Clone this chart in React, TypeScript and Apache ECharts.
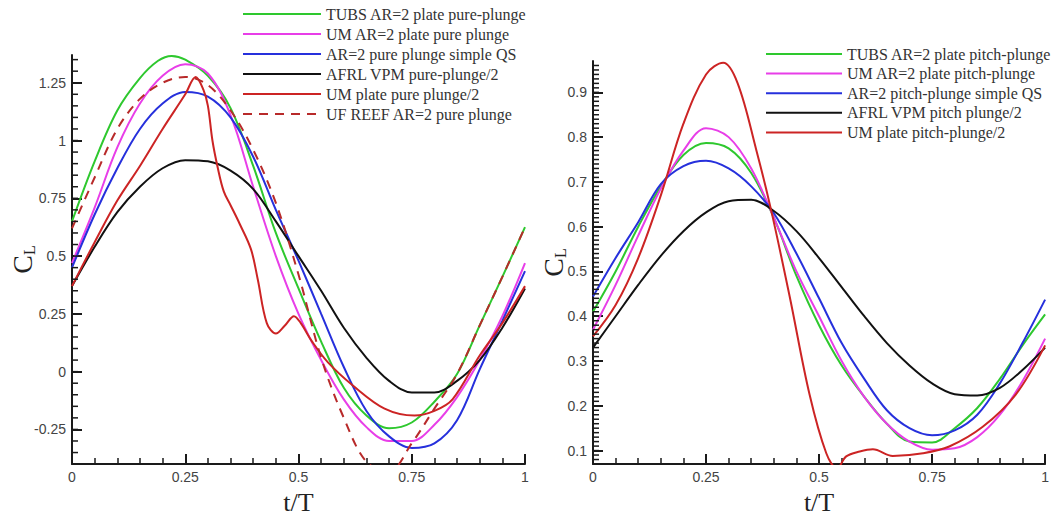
import React, { useEffect, useRef } from "react";
import * as echarts from "echarts";

// ---------- data (t/T, C_L) ----------
const tGrid = [0, 0.05, 0.1, 0.15, 0.2, 0.25, 0.3, 0.35, 0.4, 0.45, 0.5, 0.55, 0.6, 0.65, 0.7, 0.75, 0.8, 0.85, 0.9, 0.95, 1];

// left panel: pure plunge
const leftNames = [
  "TUBS AR=2 plate pure-plunge",
  "UM AR=2 plate pure plunge",
  "AR=2 pure plunge simple QS",
  "AFRL VPM pure-plunge/2",
  "UM plate pure plunge/2",
  "UF REEF AR=2 pure plunge",
];
const tubsPureT = [0, 0.05, 0.1, 0.15, 0.19, 0.22, 0.25, 0.3, 0.35, 0.4, 0.45, 0.5, 0.55, 0.6, 0.65, 0.7, 0.75, 0.8, 0.85, 0.9, 0.95, 1];
const tubsPure = [0.65, 0.91, 1.13, 1.27, 1.345, 1.366, 1.35, 1.28, 1.14, 0.89, 0.6, 0.36, 0.13, -0.07, -0.19, -0.245, -0.22, -0.13, -0.01, 0.2, 0.41, 0.625];
const umPure = [0.47, 0.71, 0.97, 1.16, 1.28, 1.33, 1.29, 1.11, 0.8, 0.5, 0.25, 0.05, -0.12, -0.24, -0.3, -0.3, -0.23, -0.11, 0.05, 0.24, 0.47];
const qsPure = [0.45, 0.68, 0.88, 1.05, 1.16, 1.21, 1.19, 1.1, 0.93, 0.7, 0.48, 0.25, 0.02, -0.17, -0.28, -0.33, -0.31, -0.21, 0.01, 0.22, 0.435];
const vpmPure = [0.37, 0.54, 0.69, 0.8, 0.88, 0.915, 0.91, 0.87, 0.79, 0.65, 0.5, 0.35, 0.19, 0.06, -0.04, -0.09, -0.09, -0.04, 0.05, 0.19, 0.36];
const reefPure = [0.62, 0.84, 1.05, 1.18, 1.25, 1.275, 1.24, 1.13, 0.96, 0.73, 0.42, 0.06, -0.2, -0.39, -0.43, -0.31, -0.16, -0.01, 0.2, 0.41, 0.625];
const umPlatePureT = [0, 0.05, 0.1, 0.15, 0.2, 0.25, 0.273, 0.29, 0.3, 0.31, 0.322, 0.335, 0.35, 0.37, 0.395, 0.41, 0.43, 0.45, 0.47, 0.49, 0.505, 0.53, 0.565, 0.62, 0.69, 0.756, 0.8, 0.84, 0.9, 0.95, 1];
const umPlatePure = [0.37, 0.56, 0.74, 0.89, 1.05, 1.2, 1.275, 1.22, 1.15, 1.0, 0.88, 0.78, 0.72, 0.64, 0.53, 0.4, 0.21, 0.165, 0.2, 0.24, 0.21, 0.13, 0.04, -0.06, -0.16, -0.19, -0.17, -0.12, 0.07, 0.21, 0.37];

// right panel: pitch-plunge
const rightNames = [
  "TUBS AR=2 plate pitch-plunge",
  "UM AR=2 plate pitch-plunge",
  "AR=2 pitch-plunge simple QS",
  "AFRL VPM pitch plunge/2",
  "UM plate pitch-plunge/2",
];
const tubsPitch = [0.41, 0.5, 0.6, 0.69, 0.76, 0.787, 0.775, 0.72, 0.62, 0.49, 0.38, 0.29, 0.22, 0.16, 0.12, 0.118, 0.15, 0.195, 0.26, 0.335, 0.404];
const umPitch = [0.37, 0.47, 0.58, 0.685, 0.77, 0.82, 0.8, 0.73, 0.62, 0.5, 0.4, 0.3, 0.22, 0.16, 0.12, 0.102, 0.105, 0.13, 0.18, 0.255, 0.35];
const qsPitch = [0.444, 0.53, 0.61, 0.695, 0.735, 0.747, 0.73, 0.69, 0.63, 0.54, 0.44, 0.34, 0.26, 0.19, 0.15, 0.134, 0.145, 0.18, 0.25, 0.34, 0.437];
const vpmPitch = [0.33, 0.4, 0.47, 0.535, 0.59, 0.632, 0.657, 0.66, 0.635, 0.59, 0.53, 0.465, 0.4, 0.34, 0.29, 0.25, 0.226, 0.223, 0.24, 0.28, 0.33];
const umPlatePitchT = [0, 0.05, 0.1, 0.15, 0.2, 0.25, 0.288, 0.32, 0.361, 0.394, 0.435, 0.479, 0.516, 0.54, 0.56, 0.59, 0.619, 0.663, 0.73, 0.788, 0.862, 0.935, 1];
const umPlatePitch = [0.355, 0.425, 0.53, 0.67, 0.83, 0.94, 0.966, 0.92, 0.772, 0.637, 0.444, 0.225, 0.094, 0.06, 0.087, 0.098, 0.103, 0.088, 0.094, 0.109, 0.153, 0.225, 0.335];

// tick labels
const xTicks = [0, 0.25, 0.5, 0.75, 1];
const leftYTicks = [-0.25, 0, 0.25, 0.5, 0.75, 1, 1.25];
const rightYTicks = [0.1, 0.2, 0.3, 0.4, 0.5, 0.6, 0.7, 0.8, 0.9];

const GREEN = "#2ec82e";
const MAGENTA = "#e83ee8";
const BLUE = "#2630dc";
const BLACK = "#111111";
const RED = "#cc2424";
const DRED = "#b82a2a";

function pairs(ts: number[], vs: number[]) {
  return ts.map((t, i) => [t, vs[i]]);
}
// minor tick values along an axis (axis decoration, not chart data)
function steps(from: number, to: number, step: number) {
  const out: number[] = [];
  const n = Math.round((to - from) / step);
  for (let i = 0; i <= n; i++) out.push(parseFloat((from + i * step).toFixed(3)));
  return out;
}

export default function App() {
  const ref = useRef<HTMLDivElement>(null);
  useEffect(() => {
    const chart = echarts.init(ref.current!, null, { renderer: "svg" });
    const axisColor = "#1a1a1a";
    const fmt = (v: number) => String(parseFloat(Number(v).toFixed(2)));
    const labelStyle = { fontFamily: "Liberation Sans, Arial, sans-serif", fontSize: 14, color: "#444" };
    const serif = "Liberation Serif, Times New Roman, serif";

    const xAxisCfg = (gridIndex: number, nameGap: number) => ({
      type: "value",
      gridIndex,
      min: 0,
      max: 1,
      interval: 0.25,
      axisLine: { onZero: false, lineStyle: { color: axisColor, width: 2 } },
      axisTick: { inside: true, length: 10, lineStyle: { color: axisColor, width: 2 } },
      minorTick: { show: true, splitNumber: 5, length: 6, lineStyle: { color: axisColor, width: 1.5 } },
      splitLine: { show: false },
      minorSplitLine: { show: false },
      axisLabel: { ...labelStyle, margin: 6, formatter: fmt, customValues: xTicks },
      name: "t/T",
      nameLocation: "middle",
      nameGap,
      nameTextStyle: { fontFamily: serif, fontSize: 26, color: "#222" },
    });

    const yMajor = (gridIndex: number, min: number, max: number, ticks: number[], nameGap: number) => ({
      type: "value",
      gridIndex,
      position: "left",
      min,
      max,
      axisLine: { onZero: false, lineStyle: { color: axisColor, width: 2 } },
      axisTick: { inside: true, length: 10, customValues: ticks, lineStyle: { color: axisColor, width: 2 } },
      splitLine: { show: false },
      axisLabel: { ...labelStyle, margin: 6, formatter: fmt, customValues: ticks },
      name: "{c|C}{l|L}",
      nameLocation: "middle",
      nameRotate: 90,
      nameGap,
      nameMoveOverlap: false,
      nameTextStyle: {
        rich: {
          c: { fontFamily: serif, fontSize: 28, color: "#222", lineHeight: 30 },
          l: { fontFamily: serif, fontSize: 16, color: "#222", lineHeight: 14, verticalAlign: "bottom" },
        },
      },
    });

    const line = (name: string, data: number[][], color: string, xi: number, dashed = false) => ({
      type: "line",
      name,
      data,
      xAxisIndex: xi,
      yAxisIndex: xi,
      symbol: "none",
      smooth: 0.35,
      lineStyle: { color, width: 2, type: dashed ? [9, 7] : "solid" },
      itemStyle: { color },
      clip: true,
    });

    const legendText = { fontFamily: serif, fontSize: 16, color: "#333" };

    chart.setOption({
      animation: false,
      backgroundColor: "#ffffff",
      grid: [
        { left: 72, top: 55, width: 453, height: 412 },
        { left: 593, top: 61, width: 453, height: 411 },
      ],
      xAxis: [xAxisCfg(0, 21), xAxisCfg(1, 25)],
      yAxis: [yMajor(0, -0.4, 1.37, leftYTicks, 35), yMajor(1, 0.07, 0.97, rightYTicks, 25)],
      legend: [
        {
          data: leftNames,
          orient: "vertical",
          left: 237,
          top: 1,
          itemWidth: 78,
          itemHeight: 14,
          itemGap: 4,
          selectedMode: false,
          itemStyle: { opacity: 0 },
          textStyle: legendText,
        },
        {
          data: rightNames,
          orient: "vertical",
          left: 760,
          top: 41,
          itemWidth: 76,
          itemHeight: 14,
          itemGap: 3.6,
          selectedMode: false,
          itemStyle: { opacity: 0 },
          textStyle: legendText,
        },
      ],
      series: [
        line(leftNames[0], pairs(tubsPureT, tubsPure), GREEN, 0),
        line(leftNames[1], pairs(tGrid, umPure), MAGENTA, 0),
        line(leftNames[2], pairs(tGrid, qsPure), BLUE, 0),
        line(leftNames[3], pairs(tGrid, vpmPure), BLACK, 0),
        line(leftNames[4], pairs(umPlatePureT, umPlatePure), RED, 0),
        line(leftNames[5], pairs(tGrid, reefPure), DRED, 0, true),
        line(rightNames[0], pairs(tGrid, tubsPitch), GREEN, 1),
        line(rightNames[1], pairs(tGrid, umPitch), MAGENTA, 1),
        line(rightNames[2], pairs(tGrid, qsPitch), BLUE, 1),
        line(rightNames[3], pairs(tGrid, vpmPitch), BLACK, 1),
        line(rightNames[4], pairs(umPlatePitchT, umPlatePitch), RED, 1),
      ],
    });

    // short minor ticks on the y axes, positioned through the axis scale
    const minorEls: any[] = [];
    const addMinor = (gridIndex: number, values: number[]) => {
      values.forEach((v) => {
        const p = chart.convertToPixel({ gridIndex } as any, [0, v]) as number[];
        if (!p || !isFinite(p[0]) || !isFinite(p[1])) return;
        minorEls.push({
          type: "line",
          silent: true,
          z: 10,
          shape: { x1: p[0], y1: p[1], x2: p[0] + 6, y2: p[1] },
          style: { stroke: axisColor, lineWidth: 1.5 },
        });
      });
    };
    addMinor(0, steps(-0.35, 1.35, 0.05));
    addMinor(1, steps(0.08, 0.96, 0.01));
    chart.setOption({ graphic: { elements: minorEls } });

    return () => chart.dispose();
  }, []);
  return <div ref={ref} style={{ position: "absolute", left: 0, top: 0, width: 1052, height: 520 }} />;
}
